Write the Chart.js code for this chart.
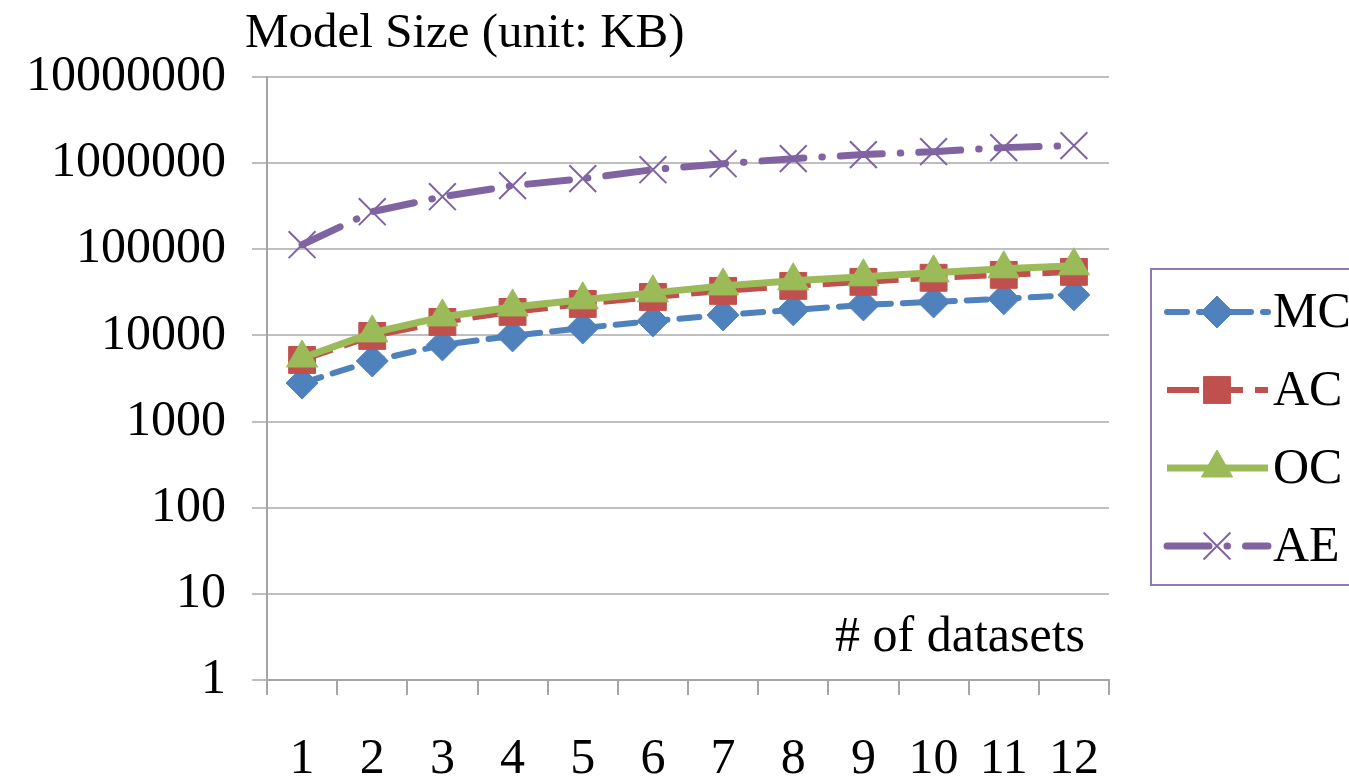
<!DOCTYPE html>
<html><head><meta charset="utf-8">
<script src="https://cdn.jsdelivr.net/npm/chart.js@4.4.1/dist/chart.umd.min.js"></script>
<style>html,body{margin:0;padding:0;background:#fff}#wrap{width:1349px;height:778px;position:relative}</style>
</head><body><div id="wrap"><canvas id="c" width="1349" height="778"></canvas></div>
<script>
const categories = ['1','2','3','4','5','6','7','8','9','10','11','12'];
const mcValues = [2800, 5050, 7760, 9870, 12200, 14750, 17300, 19800, 22600, 24500, 26600, 29600];
const acValues = [5190, 9870, 14350, 18760, 23200, 28000, 32900, 37600, 41900, 46700, 50500, 54700];
const ocValues = [5470, 10700, 16400, 21400, 25900, 31200, 37600, 43000, 47900, 53300, 59300, 64300];
const aeValues = [113000, 273000, 408000, 548000, 661000, 840000, 986000, 1128000, 1256000, 1360000, 1514000, 1597000];
const yTickValues = [1, 10, 100, 1000, 10000, 100000, 1000000, 10000000];
const seriesNames = ['MC', 'AC', 'OC', 'AE'];
const yAxisTitle = 'Model Size (unit: KB)';
const xAxisTitle = '# of datasets';

const FONT = 'Liberation Serif, Times New Roman, serif';
const FS = 50;

const datasets = [
  {label: seriesNames[0], data: mcValues, borderColor: '#4F81BD', backgroundColor: '#4F81BD',
   borderWidth: 6, borderDash: [20, 12], borderCapStyle: 'round', pointStyle: 'rectRot', pointRadius: 16,
   pointBorderWidth: 1, order: 4},
  {label: seriesNames[1], data: acValues, borderColor: '#C0504D', backgroundColor: '#C0504D',
   borderWidth: 6, borderDash: [32, 12], borderCapStyle: 'butt', pointStyle: 'rect', pointRadius: 19,
   pointBorderWidth: 1, order: 3},
  {label: seriesNames[2], data: ocValues, borderColor: '#9BBB59', backgroundColor: '#9BBB59',
   borderWidth: 7, borderDash: [], pointStyle: 'triangle', pointRadius: 18,
   pointBorderWidth: 1, order: 2},
  {label: seriesNames[3], data: aeValues, borderColor: '#8064A2', backgroundColor: '#8064A2',
   borderWidth: 7, borderDash: [42, 18, 0.5, 18], borderCapStyle: 'round', pointStyle: 'crossRot', pointRadius: 19,
   pointBorderWidth: 2, order: 1}
];
datasets.forEach(d => { d.tension = 0; d.fill = false; d.pointBackgroundColor = d.borderColor; d.pointBorderColor = d.borderColor; d.pointHoverRadius = d.pointRadius; });

function drawMarker(ctx, ds, x, y) {
  ctx.save();
  ctx.setLineDash([]);
  ctx.fillStyle = ds.borderColor;
  ctx.strokeStyle = ds.borderColor;
  ctx.lineWidth = ds.pointBorderWidth;
  if (Chart.helpers && Chart.helpers.drawPoint) {
    Chart.helpers.drawPoint(ctx, {pointStyle: ds.pointStyle, radius: ds.pointRadius, rotation: 0, borderWidth: ds.pointBorderWidth}, x, y);
  }
  ctx.restore();
}

const extras = {
  id: 'extras',
  afterDraw(chart) {
    const ctx = chart.ctx;
    ctx.save();
    ctx.fillStyle = '#000';
    ctx.font = '49px ' + FONT;
    ctx.textBaseline = 'middle';
    ctx.textAlign = 'left';
    ctx.fillText(yAxisTitle, 245, 34);
    ctx.font = FS + 'px ' + FONT;
    ctx.textAlign = 'right';
    ctx.fillText(xAxisTitle, 1085, 638);
    // legend
    ctx.strokeStyle = '#8C7BAE';
    ctx.lineWidth = 2;
    ctx.strokeRect(1151, 269, 260, 316);
    const order = [0, 1, 2, 3];
    order.forEach((i, k) => {
      const ds = chart.data.datasets[i];
      const y = 312 + k * 78;
      ctx.save();
      ctx.strokeStyle = ds.borderColor;
      ctx.lineWidth = ds.borderWidth;
      ctx.lineCap = ds.borderCapStyle || 'butt';
      ctx.setLineDash(ds.borderDash || []);
      ctx.beginPath();
      ctx.moveTo(1167, y);
      ctx.lineTo(1268, y);
      ctx.stroke();
      ctx.restore();
      drawMarker(ctx, ds, 1217, y);
      ctx.fillStyle = '#000';
      ctx.textAlign = 'left';
      ctx.textBaseline = 'middle';
      ctx.font = FS + 'px ' + FONT;
      ctx.fillText(ds.label, 1273, y + 2);
    });
    ctx.restore();
  }
};

new Chart(document.getElementById('c'), {
  type: 'line',
  data: {labels: categories, datasets: datasets},
  options: {
    responsive: false,
    devicePixelRatio: 1,
    animation: false,
    layout: {padding: {top: 77, right: 240, left: 0, bottom: 0}},
    plugins: {legend: {display: false}, title: {display: false}, tooltip: {enabled: false}},
    scales: {
      x: {
        type: 'category', offset: true,
        grid: {offset: true, drawOnChartArea: false, drawTicks: true, tickLength: 15, color: '#A6A6A6', lineWidth: 2},
        border: {color: '#A6A6A6', width: 2},
        ticks: {color: '#000', font: {family: FONT, size: FS}, padding: 35, maxRotation: 0, autoSkip: false},
        afterFit: s => { s.height = 98; }
      },
      y: {
        type: 'logarithmic', min: 1, max: 10000000,
        afterBuildTicks: s => { s.ticks = yTickValues.map(v => ({value: v})); },
        afterFit: s => { s.width = 267; },
        ticks: {color: '#000', font: {family: FONT, size: FS}, padding: 26, autoSkip: false,
          callback: v => String(v)},
        grid: {color: '#BFBFBF', lineWidth: 2, tickLength: 15, drawTicks: true},
        border: {color: '#A6A6A6', width: 2}
      }
    }
  },
  plugins: [extras]
});
</script></body></html>
